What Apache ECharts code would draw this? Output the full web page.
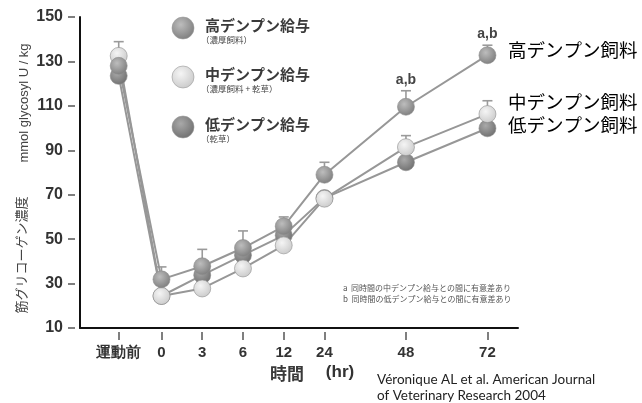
<!DOCTYPE html>
<html>
<head>
<meta charset="utf-8">
<script src="https://cdn.jsdelivr.net/npm/echarts@6/dist/echarts.min.js"></script>
<style>
html,body{margin:0;padding:0;background:#fff;}
#chart{width:642px;height:403px;}
</style>
</head>
<body>
<div id="chart"></div>
<script>
// ---- data ----
var timeLabels = ['運動前', '0', '3', '6', '12', '24', '48', '72'];
var timeSlots = [-1.05, 0, 1, 2, 3, 4, 6, 8]; // axis scale slot for each time point
var highStarch = [128, 31.9, 37.8, 46, 55.8, 79, 109.6, 132.8];
var midStarch = [132.5, 24.4, 27.8, 36.8, 47.2, 68.2, 91.4, 106.3];
var lowStarch = [123.5, 24.4, 33.8, 42.8, 51.7, 68.5, 84.6, 99.9];
var highErrTop = [null, 37.5, 45.4, 53.7, 60, 84.6, 116.8, 137.3];
var midErrTop = [138.9, null, null, null, null, null, 96.6, 112.3];
var sigLabels = ['', '', '', '', '', '', 'a,b', 'a,b'];
var seriesNames = ['高デンプン給与', '中デンプン給与', '低デンプン給与'];
var seriesSubs = ['（濃厚飼料）', '（濃厚飼料 + 乾草）', '（乾草）'];
var endLabels = ['高デンプン飼料', '中デンプン飼料', '低デンプン飼料'];

var JP = '"Noto Sans CJK JP", "Noto Sans", sans-serif';
function ball(light, dark) {
  return {type: 'radial', x: 0.4, y: 0.35, r: 0.7,
    colorStops: [{offset: 0, color: light}, {offset: 1, color: dark}]};
}
var colHigh = ball('#bdbdbd', '#7c7c7c');
var colMid = ball('#f5f5f5', '#c9c9c9');
var colLow = ball('#a9a9a9', '#6e6e6e');

function pairs(vals) { return vals.map(function (v, i) { return [timeSlots[i], v]; }); }
function errData(tops, means, withLab) {
  var out = [];
  tops.forEach(function (t, i) {
    if (t != null) out.push({value: [timeSlots[i], t, means[i]], lab: withLab ? sigLabels[i] : ''});
  });
  return out;
}

function lineSeries(name, vals, color) {
  return {
    name: name, type: 'line', data: pairs(vals), xAxisIndex: 0, yAxisIndex: 0,
    symbol: 'circle', symbolSize: 17, z: 5,
    lineStyle: {color: '#979797', width: 2},
    itemStyle: {color: color, borderColor: '#8d8d8d', borderWidth: 0.6},
    emphasis: {disabled: true}, animation: false
  };
}
function errSeries(data) {
  return {
    type: 'custom', xAxisIndex: 0, yAxisIndex: 0, z: 3, animation: false,
    data: data,
    renderItem: function (params, api) {
      var x = api.value(0), top = api.value(1), mean = api.value(2);
      var p1 = api.coord([x, mean]), p2 = api.coord([x, top]);
      var d = data[params.dataIndex];
      var children = [
        {type: 'line', shape: {x1: p1[0], y1: p1[1], x2: p2[0], y2: p2[1]}, style: {stroke: '#9a9a9a', lineWidth: 1.6}},
        {type: 'line', shape: {x1: p2[0] - 5, y1: p2[1], x2: p2[0] + 5, y2: p2[1]}, style: {stroke: '#9a9a9a', lineWidth: 1.6}}
      ];
      if (d.lab) {
        children.push({type: 'text', style: {text: d.lab, x: p2[0], y: p2[1] - 11, align: 'center', verticalAlign: 'middle',
          font: 'bold 14px "Liberation Sans", sans-serif', fill: '#444'}});
      }
      return {type: 'group', children: children};
    }
  };
}

var chart = echarts.init(document.getElementById('chart'), null, {renderer: 'canvas'});
var labFont = {fontFamily: '"Liberation Sans", Arial, sans-serif', fontWeight: 'bold', color: '#333'};

var graphics = [];
// legend inside plot
var legCols = [colHigh, colMid, colLow];
var legY = [28, 77, 127];
for (var i = 0; i < 3; i++) {
  graphics.push({type: 'circle', shape: {cx: 183, cy: legY[i], r: 11}, style: {fill: legCols[i], stroke: '#999', lineWidth: 0.6}});
  graphics.push({type: 'text', style: {text: seriesNames[i], x: 205, y: legY[i] - 3, verticalAlign: 'middle',
    font: 'bold 15px ' + JP, fill: '#3a3a3a'}});
  graphics.push({type: 'text', style: {text: seriesSubs[i], x: 201, y: legY[i] + 12, verticalAlign: 'middle',
    font: '8.5px ' + JP, fill: '#444'}});
}
// end labels
var endY = [50, 102, 125];
for (var j = 0; j < 3; j++) {
  graphics.push({type: 'text', style: {text: endLabels[j], x: 508, y: endY[j], verticalAlign: 'middle',
    font: '18.5px ' + JP, fill: '#000'}});
}
// y axis titles
graphics.push({type: 'text', rotation: Math.PI / 2, x: 24, y: 103,
  style: {text: 'mmol glycosyl U / kg', x: 0, y: 0, align: 'center', verticalAlign: 'middle',
    font: '13px "Liberation Sans", Arial, sans-serif', fill: '#444'}});
graphics.push({type: 'text', rotation: Math.PI / 2, x: 21, y: 255,
  style: {text: '筋グリコーゲン濃度', x: 0, y: 0, align: 'center', verticalAlign: 'middle',
    font: '13px ' + JP, fill: '#444'}});
// x axis title
graphics.push({type: 'text', style: {text: '時間', x: 287, y: 374, align: 'center', verticalAlign: 'middle',
  font: 'bold 17px ' + JP, fill: '#3a3a3a'}});
graphics.push({type: 'text', style: {text: '(hr)', x: 340, y: 372, align: 'center', verticalAlign: 'middle',
  font: 'bold 17px "Liberation Sans", Arial, sans-serif', fill: '#333'}});
// footnotes
graphics.push({type: 'text', style: {text: 'a  同時間の中デンプン給与との間に有意差あり', x: 343, y: 288, verticalAlign: 'middle',
  font: '8px ' + JP, fill: '#555'}});
graphics.push({type: 'text', style: {text: 'b  同時間の低デンプン給与との間に有意差あり', x: 343, y: 299, verticalAlign: 'middle',
  font: '8px ' + JP, fill: '#555'}});
// citation
graphics.push({type: 'text', style: {text: 'Véronique AL et al. American Journal', x: 377, y: 380, verticalAlign: 'middle',
  font: '13.5px Lato, "Open Sans", sans-serif', fill: '#222'}});
graphics.push({type: 'text', style: {text: 'of Veterinary Research 2004', x: 377, y: 396, verticalAlign: 'middle',
  font: '13.5px Lato, "Open Sans", sans-serif', fill: '#222'}});

var option = {
  backgroundColor: '#fff',
  animation: false,
  grid: {left: 80, right: 124, top: 17, bottom: 75, containLabel: false},
  xAxis: [
    {type: 'value', min: -2, max: 8.75, axisLine: {show: true, onZero: false, lineStyle: {color: '#111', width: 2}},
      axisTick: {show: false}, axisLabel: {show: false}, splitLine: {show: false}},
    {type: 'value', min: -2, max: 8.75, position: 'bottom', offset: 4,
      axisLine: {show: false, onZero: false}, splitLine: {show: false},
      axisTick: {show: true, length: 8, lineStyle: {color: '#555', width: 1.5}, customValues: timeSlots},
      axisLabel: Object.assign({show: true, margin: 13, fontSize: 15, customValues: timeSlots,
        formatter: function (v) {
          var k = timeSlots.indexOf(v);
          return k >= 0 ? timeLabels[k] : '';
        }}, labFont)}
  ],
  yAxis: [
    {type: 'value', min: 10, max: 150, interval: 20, axisLine: {show: true, onZero: false, lineStyle: {color: '#111', width: 2}},
      axisTick: {show: false}, axisLabel: {show: false}, splitLine: {show: false}},
    {type: 'value', min: 10, max: 150, interval: 20, position: 'left', offset: 5,
      axisLine: {show: false, onZero: false}, splitLine: {show: false},
      axisTick: {show: true, length: 7, lineStyle: {color: '#555', width: 1.5}},
      axisLabel: Object.assign({show: true, margin: 12, fontSize: 16}, labFont)}
  ],
  series: [
    errSeries(errData(highErrTop, highStarch, true)),
    errSeries(errData(midErrTop, midStarch, false)),
    lineSeries(seriesNames[2], lowStarch, colLow),
    lineSeries(seriesNames[1], midStarch, colMid),
    lineSeries(seriesNames[0], highStarch, colHigh)
  ],
  graphic: graphics
};
chart.setOption(option);
</script>
</body>
</html>
